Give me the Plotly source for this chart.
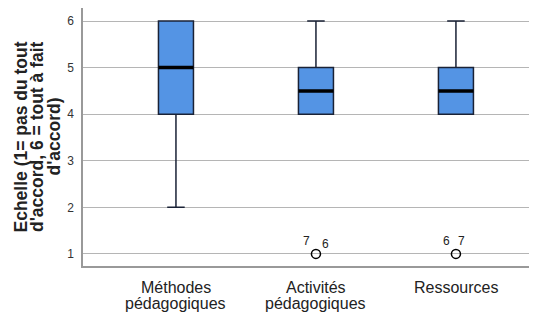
import plotly.graph_objects as go

categories = [["Méthodes", "pédagogiques"], ["Activités", "pédagogiques"], ["Ressources"]]
q1 = [4, 4, 4]
median = [5, 4.5, 4.5]
q3 = [6, 5, 5]
lower = [2, 4, 4]
upper = [6, 6, 6]
outlier_cat = [1, 2]
outlier_val = [1, 1]
outlier_labels = [("7", "6"), ("6", "7")]
y_ticks = [1, 2, 3, 4, 5, 6]
y_title_lines = ["Echelle (1= pas du tout", "d'accord, 6 = tout à fait", "d'accord)"]

xs = list(range(len(categories)))
box_w = 0.25

fig = go.Figure()
fig.add_trace(go.Box(
    x=xs, q1=q1, median=median, q3=q3, lowerfence=lower, upperfence=upper,
    width=box_w, whiskerwidth=0.5,
    fillcolor="#5494E4", line=dict(color="#1a2236", width=1.5),
    boxpoints=False, showlegend=False, hoverinfo="skip",
))
for i in xs:
    fig.add_trace(go.Scatter(
        x=[i - box_w / 2, i + box_w / 2], y=[median[i], median[i]],
        mode="lines", line=dict(color="black", width=3.5),
        showlegend=False, hoverinfo="skip"))
fig.add_trace(go.Scatter(
    x=outlier_cat, y=outlier_val, mode="markers",
    marker=dict(symbol="circle-open", size=9, color="black", line=dict(width=1.5)),
    showlegend=False, hoverinfo="skip"))
label_offsets = [[(-9, 13), (10, 10)], [(-9, 13), (6, 13)]]
for c, v, labs, offs in zip(outlier_cat, outlier_val, outlier_labels, label_offsets):
    for t, (dx, dy) in zip(labs, offs):
        fig.add_annotation(x=c, y=v, text=t, showarrow=False, xshift=dx, yshift=dy,
                           font=dict(size=12, color="#222"))

# category labels (tight SPSS-like line spacing)
for i, lines in zip(xs, categories):
    for k, line in enumerate(lines):
        fig.add_annotation(x=i, xref="x", y=0, yref="paper", yanchor="middle",
                           text=line, showarrow=False, yshift=-21 - 16.5 * k,
                           font=dict(size=16, color="#222"))

# y-axis title, three rotated lines
for k, line in enumerate(y_title_lines):
    fig.add_annotation(x=0, xref="paper", xanchor="center", y=0.5, yref="paper",
                       yanchor="middle", textangle=-90, text="<b>" + line + "</b>",
                       showarrow=False, xshift=-62.5 + 16.5 * k,
                       font=dict(size=17.5, color="#222"))

# page body has an 8px margin: figure sized to fill the rest of the window
fig.update_layout(
    width=529, height=306,
    margin=dict(l=75, r=0, t=0, b=48),
    paper_bgcolor="white", plot_bgcolor="white",
    font=dict(family="Arial, Liberation Sans, sans-serif", color="#222"),
    xaxis=dict(range=[-0.664, 2.579], tickvals=xs, showticklabels=False,
               showgrid=False, zeroline=False, showline=True, linecolor="#999",
               linewidth=1.5, ticks="", automargin=False),
    yaxis=dict(range=[0.74, 6.28], tickvals=y_ticks,
               showgrid=True, gridcolor="#b5b5b5", gridwidth=1, zeroline=False,
               showline=True, linecolor="#999", linewidth=1.5,
               ticks="outside", ticklen=5, tickcolor="rgba(0,0,0,0)",
               tickfont=dict(size=12, color="#333"), automargin=False),
)
fig.write_html("out.html")
